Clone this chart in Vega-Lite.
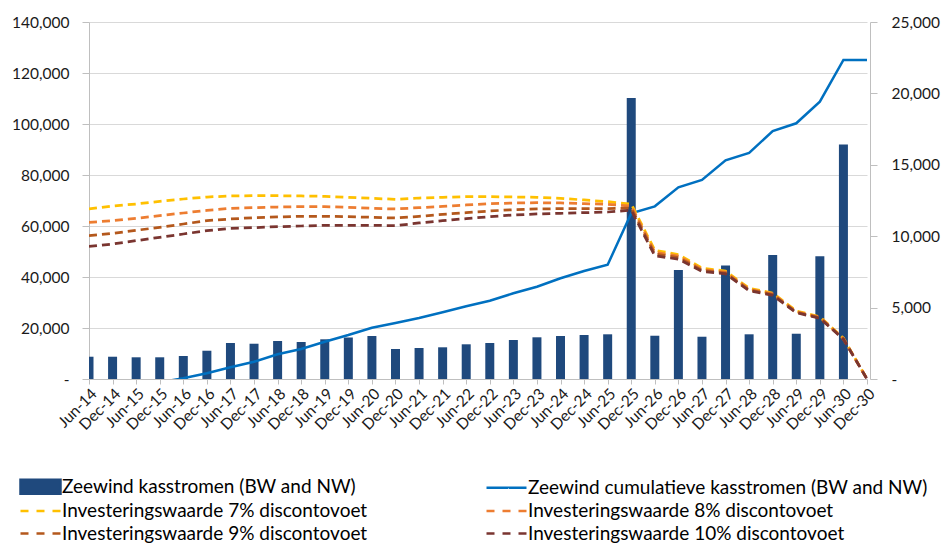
{
  "$schema": "https://vega.github.io/schema/vega-lite/v6.json",
  "width": 781,
  "height": 357,
  "padding": {"left": 11, "top": 15, "right": 5, "bottom": 0},
  "background": "white",
  "config": {
    "view": {"stroke": null},
    "axis": {"labelFont": "Lato", "labelFontSize": 15.5, "labelColor": "#1a1a1a", "domainColor": "#bfbfbf", "tickColor": "#bfbfbf", "gridColor": "#d9d9d9", "title": null}
  },
  "data": {"values": [
    {"p":"Jun-14","bar":1560,"cum":-5900,"r7":66670,"r8":61440,"r9":56210,"r10":52030},
    {"p":"Dec-14","bar":1560,"cum":-4350,"r7":67840,"r8":62090,"r9":57120,"r10":52940},
    {"p":"Jun-15","bar":1520,"cum":-2830,"r7":68630,"r8":63010,"r9":58300,"r10":54250},
    {"p":"Dec-15","bar":1520,"cum":-1310,"r7":69670,"r8":64050,"r9":59480,"r10":55560},
    {"p":"Jun-16","bar":1610,"cum":300,"r7":70590,"r8":65100,"r9":60780,"r10":56860},
    {"p":"Dec-16","bar":1980,"cum":2240,"r7":71370,"r8":66140,"r9":62090,"r10":58170},
    {"p":"Jun-17","bar":2520,"cum":4590,"r7":71770,"r8":66930,"r9":62750,"r10":59090},
    {"p":"Dec-17","bar":2470,"cum":6780,"r7":71880,"r8":67190,"r9":63270,"r10":59350},
    {"p":"Jun-18","bar":2660,"cum":9690,"r7":71880,"r8":67450,"r9":63530,"r10":59740},
    {"p":"Dec-18","bar":2590,"cum":11770,"r7":71770,"r8":67580,"r9":63790,"r10":60000},
    {"p":"Jun-19","bar":2780,"cum":14630,"r7":71630,"r8":67580,"r9":63790,"r10":60260},
    {"p":"Dec-19","bar":2910,"cum":17260,"r7":71240,"r8":67320,"r9":63660,"r10":60260},
    {"p":"Jun-20","bar":3010,"cum":20120,"r7":70850,"r8":66930,"r9":63400,"r10":60260},
    {"p":"Dec-20","bar":2100,"cum":21960,"r7":70460,"r8":66670,"r9":63140,"r10":60130},
    {"p":"Jun-21","bar":2170,"cum":23920,"r7":70980,"r8":67190,"r9":63790,"r10":61180},
    {"p":"Dec-21","bar":2220,"cum":26160,"r7":71240,"r8":67710,"r9":64580,"r10":62090},
    {"p":"Jun-22","bar":2430,"cum":28510,"r7":71500,"r8":68240,"r9":65230,"r10":62880},
    {"p":"Dec-22","bar":2520,"cum":30710,"r7":71500,"r8":68760,"r9":65880,"r10":63660},
    {"p":"Jun-23","bar":2730,"cum":33610,"r7":71370,"r8":69020,"r9":66410,"r10":64310},
    {"p":"Dec-23","bar":2920,"cum":36200,"r7":71240,"r8":69150,"r9":66670,"r10":64710},
    {"p":"Jun-24","bar":3010,"cum":39490,"r7":70850,"r8":69020,"r9":66800,"r10":64970},
    {"p":"Dec-24","bar":3080,"cum":42350,"r7":70200,"r8":68760,"r9":66800,"r10":65230},
    {"p":"Jun-25","bar":3130,"cum":44800,"r7":69540,"r8":68500,"r9":66800,"r10":65490},
    {"p":"Dec-25","bar":19680,"cum":64970,"r7":68600,"r8":67800,"r9":67000,"r10":66200},
    {"p":"Jun-26","bar":3030,"cum":67710,"r7":50500,"r8":49700,"r9":49000,"r10":48300},
    {"p":"Dec-26","bar":7630,"cum":75160,"r7":48800,"r8":48200,"r9":47600,"r10":47000},
    {"p":"Jun-27","bar":2960,"cum":78040,"r7":43500,"r8":43000,"r9":42600,"r10":42200},
    {"p":"Dec-27","bar":7940,"cum":85750,"r7":42300,"r8":41900,"r9":41500,"r10":41200},
    {"p":"Jun-28","bar":3130,"cum":88630,"r7":35600,"r8":35200,"r9":34900,"r10":34600},
    {"p":"Dec-28","bar":8680,"cum":97250,"r7":33700,"r8":33400,"r9":33100,"r10":32800},
    {"p":"Jun-29","bar":3170,"cum":100280,"r7":26700,"r8":26400,"r9":26200,"r10":26000},
    {"p":"Dec-29","bar":8590,"cum":108750,"r7":24400,"r8":24200,"r9":24000,"r10":23800},
    {"p":"Jun-30","bar":16430,"cum":125100,"r7":16000,"r8":15800,"r9":15700,"r10":15600},
    {"p":"Dec-30","bar":0,"cum":125100,"r7":0,"r8":0,"r9":0,"r10":0}
  ]},
  "encoding": {
    "x": {"field": "p", "type": "ordinal", "sort": null,
      "scale": {"type": "point", "padding": 0, "range": [0, 778]},
      "axis": {"labelAngle": -45, "tickSize": 5, "labelPadding": 2, "domainColor": "#bfbfbf"}},
    "color": {"field": "s", "type": "nominal",
      "scale": {"domain": ["bar","r7","r9","cum","r8","r10"], "range": ["#1F497D","#FFC000","#B4581C","#0070C0","#ED7D31","#7A3530"]},
      "legend": {
        "orient": "none", "legendX": -71, "legendY": 455, "columns": 2, "columnPadding": 113, "rowPadding": 2.5,
        "title": null, "symbolSize": 196, "symbolStrokeWidth": 2.5, "labelOffset": 25, "labelLimit": 0,
        "labelFont": "Lato", "labelFontSize": 19, "labelColor": "#000",
        "labelExpr": "datum.value==='bar' ? 'Zeewind kasstromen (BW and NW)' : datum.value==='cum' ? 'Zeewind cumulatieve kasstromen (BW and NW)' : datum.value==='r7' ? 'Investeringswaarde 7% discontovoet' : datum.value==='r8' ? 'Investeringswaarde 8% discontovoet' : datum.value==='r9' ? 'Investeringswaarde 9% discontovoet' : 'Investeringswaarde 10% discontovoet'",
        "encode": {"symbols": {"update": {
          "shape": {"signal": "datum.value==='bar' ? 'M-1,-1H4.714V1H-1Z' : 'M-1,0H4.714'"},
          "fill": {"signal": "datum.value==='bar' ? '#1F497D' : 'transparent'"},
          "stroke": {"signal": "datum.value==='bar' ? 'transparent' : scale('color', datum.value)"},
          "strokeDash": {"signal": "datum.value==='bar' || datum.value==='cum' ? [1,0] : [8,8]"},
          "strokeWidth": {"value": 2.5},
          "opacity": {"value": 1}
        }}}
      }}
  },
  "layer": [
    {
      "transform": [{"fold": ["bar"], "as": ["s", "v"]}],
      "mark": {"type": "bar", "size": 9, "clip": true},
      "encoding": {
        "y": {"field": "v", "type": "quantitative",
          "scale": {"domain": [0, 25000], "nice": false, "zero": true},
          "axis": {"orient": "right", "values": [0,5000,10000,15000,20000,25000], "grid": false, "tickSize": 7, "labelPadding": 14,
            "labelExpr": "datum.value == 0 ? '-' : format(datum.value, ',')"}}
      }
    },
    {
      "layer": [
        {
          "transform": [{"fold": ["cum"], "as": ["s", "v"]}],
          "mark": {"type": "line", "strokeWidth": 2.5, "clip": true},
          "encoding": {
            "y": {"field": "v", "type": "quantitative",
              "scale": {"domain": [0, 140000], "nice": false},
              "axis": {"orient": "left", "values": [0,20000,40000,60000,80000,100000,120000,140000], "grid": true, "tickSize": 7, "labelPadding": 13,
                "labelExpr": "datum.value == 0 ? '-' : format(datum.value, ',')"}}
          }
        },
        {
          "transform": [{"fold": ["r7","r8","r9","r10"], "as": ["s", "v"]}],
          "mark": {"type": "line", "strokeWidth": 2.75, "strokeDash": [8,5], "clip": true},
          "encoding": {
            "y": {"field": "v", "type": "quantitative"}
          }
        }
      ]
    }
  ],
  "resolve": {"scale": {"y": "independent"}}
}
